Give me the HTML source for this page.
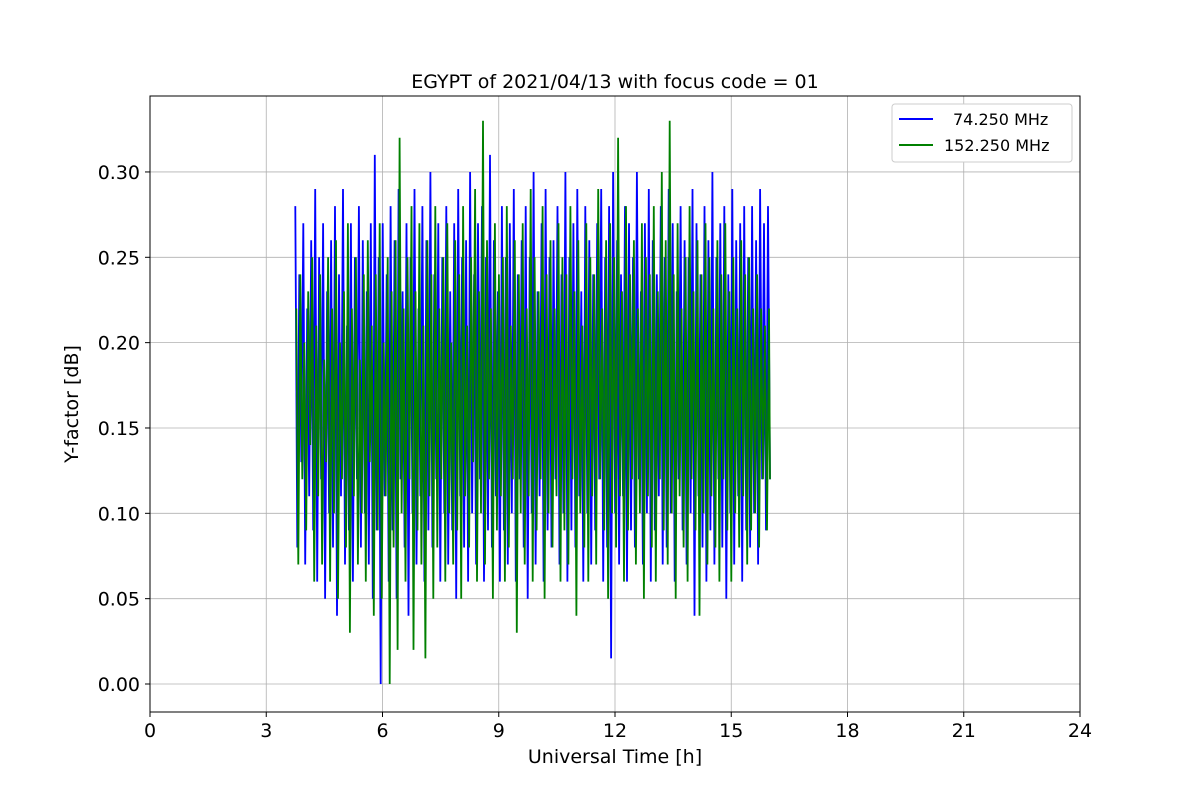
<!DOCTYPE html>
<html><head><meta charset="utf-8"><style>
body{margin:0;background:#fff;font-family:"Liberation Sans","DejaVu Sans",sans-serif}
</style></head><body>
<svg id="chart" width="1200" height="800" xmlns="http://www.w3.org/2000/svg" font-family="DejaVu Sans, Liberation Sans, sans-serif">
<rect width="1200" height="800" fill="#fff"/>
<g id="grid"></g>
<g id="series"></g>
<rect x="150" y="96" width="930" height="616" fill="none" stroke="#000" stroke-width="1"/>
<g id="axes"></g>
<text x="615" y="88" font-size="19" text-anchor="middle">EGYPT of 2021/04/13 with focus code = 01</text>
<text x="615" y="763" font-size="19" text-anchor="middle">Universal Time [h]</text>
<text transform="translate(78,404) rotate(-90)" font-size="19" text-anchor="middle">Y-factor [dB]</text>
<g>
<rect x="892" y="104" width="180" height="58" rx="3" fill="#fff" stroke="#ccc"/>
<line x1="899" y1="119" x2="933" y2="119" stroke="#0000ff" stroke-width="2"/>
<text x="953" y="125" font-size="16">74.250 MHz</text>
<line x1="899" y1="145" x2="933" y2="145" stroke="#008000" stroke-width="2"/>
<text x="944" y="151" font-size="16">152.250 MHz</text>
</g>
</svg>
<script>
const tStart = 3.75;
const tEnd = 16.0;
const xTicks = [0,3,6,9,12,15,18,21,24];
const yTicks = [0.00,0.05,0.10,0.15,0.20,0.25,0.30];
const yTickLabels = ["0.00","0.05","0.10","0.15","0.20","0.25","0.30"];
const blueValues = [.28,.08,.24,.13,.27,.07,.22,.11,.26,.09,
.29,.06,.25,.12,.27,.05,.23,.1,.26,.08,
.28,.04,.24,.11,.29,.07,.21,.09,.27,.06,
.25,.12,.28,.08,.26,.1,.23,.07,.27,.05,
.31,.09,.25,.0,.27,.11,.24,.06,.28,.09,
.26,.05,.29,.12,.23,.08,.27,.04,.25,.1,
.29,.07,.22,.11,.28,.06,.26,.09,.3,.08,
.24,.12,.27,.06,.25,.1,.28,.07,.23,.09,
.27,.05,.29,.11,.25,.08,.26,.06,.3,.1,
.24,.07,.27,.12,.28,.06,.25,.09,.31,.08,
.26,.11,.23,.06,.28,.09,.25,.07,.27,.1,
.29,.06,.24,.12,.26,.08,.28,.05,.25,.1,
.3,.07,.23,.11,.27,.06,.29,.09,.25,.08,
.26,.12,.28,.07,.24,.1,.3,.06,.25,.09,
.27,.08,.29,.11,.23,.06,.28,.1,.26,.07,
.24,.09,.27,.12,.29,.06,.25,.08,.28,.015,
.3,.1,.26,.07,.24,.11,.28,.06,.27,.09,
.25,.08,.3,.12,.23,.07,.27,.1,.29,.06,
.26,.09,.24,.11,.28,.07,.25,.08,.29,.1,
.27,.06,.23,.12,.28,.09,.26,.07,.25,.1,
.29,.04,.27,.11,.24,.08,.28,.06,.26,.09,
.3,.07,.25,.12,.27,.08,.28,.05,.24,.1,
.29,.07,.26,.11,.27,.06,.28,.09,.25,.08,
.28,.1,.26,.07,.29,.12,.27,.09,.28,.12];
const greenValues = [.22,.07,.24,.12,.2,.09,.23,.14,.25,.06,
.21,.11,.24,.07,.19,.13,.25,.06,.22,.1,
.26,.05,.2,.12,.23,.08,.27,.03,.22,.11,
.25,.07,.19,.1,.24,.06,.26,.13,.21,.04,
.24,.09,.27,.05,.2,.11,.25,.0,.23,.08,
.26,.02,.32,.1,.22,.06,.25,.12,.28,.02,
.23,.09,.27,.07,.21,.015,.26,.11,.24,.05,
.28,.08,.22,.12,.25,.06,.27,.1,.2,.07,
.26,.09,.24,.05,.28,.11,.21,.08,.25,.13,
.29,.06,.23,.1,.33,.07,.26,.12,.22,.05,
.27,.09,.24,.11,.25,.06,.28,.08,.21,.12,
.26,.03,.24,.1,.27,.07,.22,.11,.29,.06,
.25,.09,.23,.12,.28,.05,.24,.1,.26,.08,
.22,.11,.27,.06,.25,.09,.24,.07,.28,.12,
.23,.04,.26,.1,.21,.08,.27,.06,.25,.11,
.24,.07,.29,.12,.22,.09,.26,.05,.27,.1,
.25,.08,.32,.11,.23,.06,.28,.09,.24,.12,
.26,.07,.22,.1,.27,.05,.25,.11,.24,.08,
.28,.06,.23,.12,.3,.09,.26,.07,.33,.1,
.24,.05,.27,.11,.22,.08,.25,.06,.28,.12,
.23,.09,.26,.04,.24,.1,.27,.07,.25,.11,
.22,.08,.26,.06,.24,.12,.27,.09,.23,.06,
.25,.1,.22,.08,.26,.11,.24,.07,.25,.09,
.22,.1,.24,.08,.22,.12,.21,.09,.22,.12];

const NS="http://www.w3.org/2000/svg";
const X0=150,X1=1080,Y0=712,Y1=96;
const xMin=0,xMax=24,yMin=-0.0164,yMax=0.3445;
function xs(v){return X0+(v-xMin)/(xMax-xMin)*(X1-X0);}
function ys(v){return Y0-(v-yMin)/(yMax-yMin)*(Y0-Y1);}
function mk(tag,attrs,parent){const e=document.createElementNS(NS,tag);for(const k in attrs)e.setAttribute(k,attrs[k]);parent.appendChild(e);return e;}
const grid=document.getElementById('grid'),axes=document.getElementById('axes'),series=document.getElementById('series');
xTicks.forEach(t=>{
  const x=xs(t);
  const g=mk('line',{x1:x,x2:x,y1:Y1,y2:Y0,stroke:'#b0b0b0','stroke-width':0.8},grid);
  
  
  const tk=mk('line',{x1:x,x2:x,y1:Y0,y2:Y0+5,stroke:'#000'},axes);
  
  
  const tx=mk('text',{x:x,y:Y0+25,'font-size':19,'text-anchor':'middle'},axes);
  tx.textContent=String(t);
  
  
});
yTicks.forEach((t,i)=>{
  const y=ys(t);
  const g=mk('line',{x1:X0,x2:X1,y1:y,y2:y,stroke:'#b0b0b0','stroke-width':0.8},grid);
  
  
  const tk=mk('line',{x1:X0-5,x2:X0,y1:y,y2:y,stroke:'#000'},axes);
  
  
  const tx=mk('text',{x:X0-10,y:y+7,'font-size':19,'text-anchor':'end'},axes);
  tx.textContent=yTickLabels[i];
  
  
});
function drawSeries(vals,color,name,shift){
  const n=vals.length;
  const step=(tEnd-tStart)/(n-1);
  const pts=vals.map((v,i)=>{const t=Math.min(tEnd,tStart+step*(i+shift));return xs(t).toFixed(1)+','+ys(v).toFixed(1);}).join(' ');
  const p=mk('polyline',{points:pts,fill:'none',stroke:color,'stroke-width':1.8,'stroke-linejoin':'miter'},series);
  
  
}
drawSeries(blueValues,'#0000ff','series-74mhz',0);
drawSeries(greenValues,'#008000','series-152mhz',0.5);
</script>
</body></html>
